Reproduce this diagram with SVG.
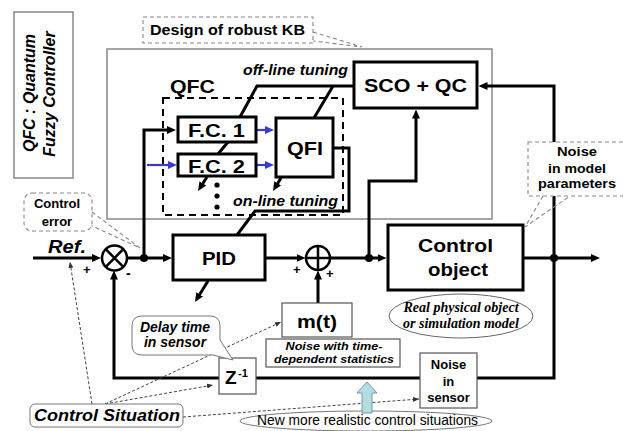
<svg xmlns="http://www.w3.org/2000/svg" width="623" height="431" viewBox="0 0 623 431">
<style>
text{font-family:"Liberation Sans",Arial,sans-serif;fill:#000}
text.serif{font-family:"Liberation Serif","Times New Roman",serif;font-weight:bold;font-style:italic;font-size:14px}
.b{font-weight:bold}
.bi{font-weight:bold;font-style:italic}
.big{font-weight:bold;font-size:19px}
.med{font-weight:bold;font-size:13px}
.thick{fill:#fff;stroke:#000;stroke-width:3}
.thin{fill:#fff;stroke:#555;stroke-width:1.2}
.gray{fill:none;stroke:#888;stroke-width:1.5}
.call{fill:#fff;stroke:#888;stroke-width:1.1;stroke-dasharray:4,3}
.conn{fill:none;stroke:#000;stroke-width:3}
.blue{fill:none;stroke:#3a3ad0;stroke-width:2.2}
.dot{fill:none;stroke:#444;stroke-width:1;stroke-dasharray:3,2}
</style>
<defs>
<marker id="ah" viewBox="0 0 9 8" refX="4" refY="4" markerWidth="9" markerHeight="8" markerUnits="userSpaceOnUse" orient="auto"><path d="M0,0 L9,4 L0,8 z" fill="#000"/></marker>
<marker id="ahb" viewBox="0 0 9 8" refX="4" refY="4" markerWidth="9" markerHeight="8" markerUnits="userSpaceOnUse" orient="auto"><path d="M0,0 L9,4 L0,8 z" fill="#3a3ad0"/></marker>
<marker id="ahs" viewBox="0 0 6 5" refX="6" refY="2.5" markerWidth="6" markerHeight="5" markerUnits="userSpaceOnUse" orient="auto"><path d="M0,0 L6,2.5 L0,5 z" fill="#333"/></marker>
</defs>
<rect width="623" height="431" fill="#fff"/>

<g id="legend">
<rect x="14" y="12" width="59" height="166" class="gray"/>
<text class="bi" font-size="16" x="35" y="93" text-anchor="middle" transform="rotate(-90 35 93)">QFC : Quantum</text>
<text class="bi" font-size="16" x="55" y="94" text-anchor="middle" transform="rotate(-90 55 94)">Fuzzy Controller</text>
</g>

<g id="kb-frame">
<rect x="107" y="49" width="385" height="170" class="gray"/>
</g>

<g id="callout-kb">
<path d="M313,32 L362,47 L313,41" fill="none" stroke="#888" stroke-width="1.1" stroke-dasharray="4,3"/>
<rect x="143" y="17" width="170" height="26" class="call"/>
<text class="b" font-size="15" x="150" y="35" textLength="155" lengthAdjust="spacingAndGlyphs">Design of robust KB</text>
</g>

<g id="qfc">
<rect x="163" y="98" width="180" height="117" fill="none" stroke="#000" stroke-width="2" stroke-dasharray="7,5"/>
<text class="big" x="170" y="93" textLength="45" lengthAdjust="spacingAndGlyphs">QFC</text>
</g>

<g id="labels-tuning">
<text class="bi" font-size="14" x="243" y="75" textLength="105" lengthAdjust="spacingAndGlyphs">off-line tuning</text>
<text class="bi" font-size="14" x="233" y="206" textLength="105" lengthAdjust="spacingAndGlyphs">on-line tuning</text>
</g>

<g id="connectors">
<path class="conn" d="M33,258 H96" marker-end="url(#ah)"/>
<path class="conn" d="M127,258 H167" marker-end="url(#ah)"/>
<path class="conn" d="M144,258 V130 H171" marker-end="url(#ah)"/>
<path class="blue" d="M147,165 H172" marker-end="url(#ahb)"/>
<path class="blue" d="M256,130 H269" marker-end="url(#ahb)"/>
<path class="blue" d="M256,165 H269" marker-end="url(#ahb)"/>
<path class="conn" d="M353,86 H257 L240,117"/>
<path class="conn" d="M333,86 L314,118"/>
<path class="conn" d="M228,142 L218,154"/>
<path class="conn" stroke-width="2.5" d="M207,177 L200.7,186.8" marker-end="url(#ah)"/>
<path class="conn" stroke-width="2.5" d="M281,178 L275.6,186.8" marker-end="url(#ah)"/>
<path class="conn" d="M333,148 H349 V211 H255 L237,235"/>
<path class="conn" d="M208,281 L197.6,297.8" marker-end="url(#ah)"/>
<path class="conn" d="M265,258 H300.5" marker-end="url(#ah)"/>
<path class="conn" d="M318,303 V275.5" marker-end="url(#ah)"/>
<path class="conn" d="M330,258 H381.5" marker-end="url(#ah)"/>
<path class="conn" d="M369,258 V181 H416 V114.5" marker-end="url(#ah)"/>
<path class="conn" d="M523,258 H595" marker-end="url(#ah)"/>
<path class="conn" d="M554,258 V86 H483.5" marker-end="url(#ah)"/>
<path class="conn" d="M554,258 V378 H114 V275.5" marker-end="url(#ah)"/>
<circle cx="144" cy="258" r="4" fill="#000"/>
<circle cx="369" cy="258" r="4" fill="#000"/>
<circle cx="554" cy="258" r="4" fill="#000"/>
<path class="dot" d="M92,404 L70,262" marker-end="url(#ahs)"/>
<path class="dot" d="M105,404 L281,322" marker-end="url(#ahs)"/>
<path class="dot" d="M105,404 L213,385" marker-end="url(#ahs)"/>
<path class="dot" d="M183,417 L419,399" marker-end="url(#ahs)"/>
</g>

<g id="fc1">
<rect x="178" y="117" width="78" height="25" class="thick"/>
<text class="big" x="188" y="137" textLength="57" lengthAdjust="spacingAndGlyphs">F.C. 1</text>
</g>
<g id="fc2">
<rect x="178" y="154" width="78" height="22" class="thick"/>
<text class="big" x="188" y="173" textLength="57" lengthAdjust="spacingAndGlyphs">F.C. 2</text>
</g>
<g id="dots">
<circle cx="217" cy="185" r="2.6" fill="#000"/>
<circle cx="217" cy="196" r="2.6" fill="#000"/>
<circle cx="217" cy="207" r="2.6" fill="#000"/>
</g>
<g id="qfi">
<rect x="276" y="118" width="57" height="59" class="thick"/>
<text class="big" x="287" y="155" textLength="36" lengthAdjust="spacingAndGlyphs">QFI</text>
</g>
<g id="sco">
<rect x="354" y="62" width="123" height="46" class="thick"/>
<text class="big" x="364" y="92" textLength="103" lengthAdjust="spacingAndGlyphs">SCO + QC</text>
</g>
<g id="pid">
<rect x="173" y="235" width="92" height="45" class="thick"/>
<text class="big" x="202" y="265" textLength="34" lengthAdjust="spacingAndGlyphs">PID</text>
</g>
<g id="control-object">
<rect x="388" y="225" width="135" height="65" class="thick"/>
<text class="big" x="418" y="252" textLength="75" lengthAdjust="spacingAndGlyphs">Control</text>
<text class="big" x="428" y="276" textLength="60" lengthAdjust="spacingAndGlyphs">object</text>
</g>

<g id="mult">
<circle cx="114.5" cy="258" r="12.5" fill="#fff" stroke="#000" stroke-width="2.5"/>
<path d="M105.7,249.2 L123.3,266.8 M123.3,249.2 L105.7,266.8" stroke="#000" stroke-width="2.5"/>
<text class="b" font-size="13" x="83" y="274">+</text>
<text class="b" font-size="14" x="126" y="278">-</text>
</g>
<g id="sum">
<circle cx="318" cy="258" r="12" fill="#fff" stroke="#000" stroke-width="2.5"/>
<path d="M306,258 H330 M318,246 V270" stroke="#000" stroke-width="2.5"/>
<text class="b" font-size="13" x="293" y="274">+</text>
<text class="b" font-size="13" x="326" y="278">+</text>
</g>
<g id="ref">
<text class="bi" font-size="19" x="48" y="253" textLength="38" lengthAdjust="spacingAndGlyphs">Ref.</text>
</g>

<g id="mt">
<rect x="282" y="303" width="70" height="34" class="thin"/>
<text class="big" x="297" y="328" textLength="40" lengthAdjust="spacingAndGlyphs">m(t)</text>
</g>
<g id="noise-time">
<rect x="266" y="339" width="134" height="28" class="thin"/>
<text class="bi" font-size="11.5" x="334" y="350" text-anchor="middle" textLength="97" lengthAdjust="spacingAndGlyphs">Noise with time-</text>
<text class="bi" font-size="11.5" x="334" y="363" text-anchor="middle" textLength="120" lengthAdjust="spacingAndGlyphs">dependent statistics</text>
</g>
<g id="z">
<rect x="219" y="358" width="37" height="36" class="thin"/>
<text class="big" x="225" y="384">Z</text>
<text class="b" font-size="11" x="238" y="377">-1</text>
</g>
<g id="noise-sensor">
<rect x="420" y="353" width="57" height="55" class="thin"/>
<text class="med" font-size="14" x="448.5" y="369" text-anchor="middle">Noise</text>
<text class="med" font-size="14" x="448.5" y="386" text-anchor="middle">in</text>
<text class="med" font-size="14" x="448.5" y="402" text-anchor="middle">sensor</text>
</g>

<g id="real-object">
<ellipse cx="461" cy="316" rx="72" ry="22" fill="#fff" stroke="#666" stroke-width="1"/>
<text class="serif" x="461" y="312" text-anchor="middle">Real physical object</text>
<text class="serif" x="461" y="328" text-anchor="middle">or simulation model</text>
</g>

<g id="callout-error">
<path d="M92,212 L140,248 L90,225" fill="none" stroke="#888" stroke-width="1.1" stroke-dasharray="4,3"/>
<rect x="24" y="193" width="68" height="38" rx="8" class="call"/>
<text class="med" font-size="14" x="57" y="208" text-anchor="middle">Control</text>
<text class="med" font-size="14" x="57" y="226" text-anchor="middle">error</text>
</g>

<g id="callout-model">
<path d="M543,196 L525,227 L570,196" fill="none" stroke="#888" stroke-width="1.1" stroke-dasharray="4,3"/>
<rect x="528" y="142" width="98" height="54" class="call"/>
<text class="med" x="577" y="156" text-anchor="middle" textLength="40" lengthAdjust="spacingAndGlyphs">Noise</text>
<text class="med" x="577" y="173" text-anchor="middle" textLength="58" lengthAdjust="spacingAndGlyphs">in model</text>
<text class="med" x="577" y="188" text-anchor="middle" textLength="78" lengthAdjust="spacingAndGlyphs">parameters</text>
</g>

<g id="callout-delay">
<path d="M142,316 H210 Q220,316 220,326 V340 L233,360 L213,355 H142 Q132,355 132,345 V326 Q132,316 142,316 Z" fill="#fff" stroke="#777" stroke-width="1"/>
<text class="bi" font-size="14" x="175" y="332" text-anchor="middle">Delay time</text>
<text class="bi" font-size="14" x="175" y="347" text-anchor="middle">in sensor</text>
</g>

<g id="control-situation">
<rect x="30" y="404" width="153" height="23" rx="5" fill="#fff" stroke="#777" stroke-width="1"/>
<text class="bi" font-size="17" x="34" y="421" textLength="146" lengthAdjust="spacingAndGlyphs">Control Situation</text>
</g>

<g id="new-situations">
<ellipse cx="366" cy="421" rx="126" ry="10" fill="#fff" stroke="#777" stroke-width="1"/>
<text font-size="14" x="257" y="425" textLength="221" lengthAdjust="spacingAndGlyphs">New more realistic control situations</text>
<path d="M367,382 L377,393 L372,393 L372,413 L362,413 L362,393 L357,393 Z" fill="#b3dde2" stroke="#6f9ca3" stroke-width="1"/>
</g>
</svg>
